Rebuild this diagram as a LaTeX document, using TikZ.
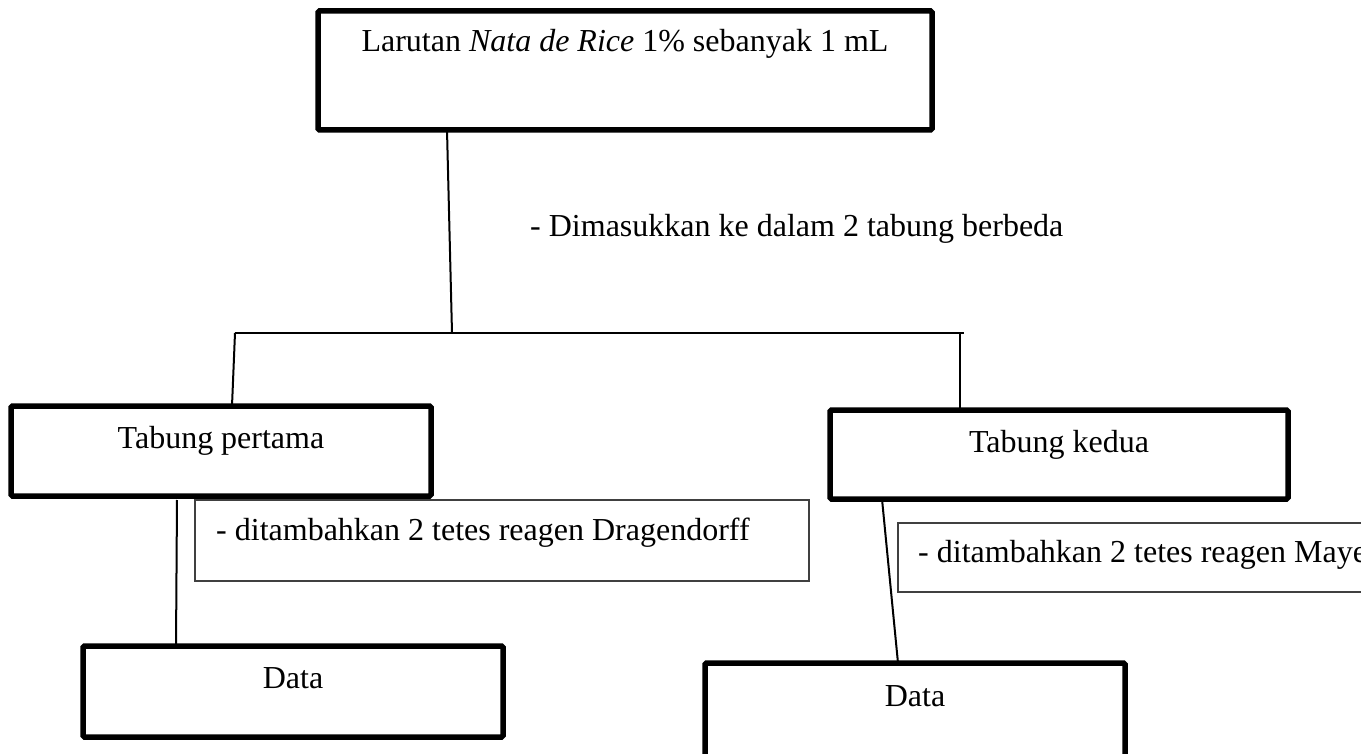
\documentclass[tikz,border=0pt]{standalone}
\usepackage{fontspec}
\setmainfont{Liberation Serif}
\usetikzlibrary{calc}
\tikzset{
  thickbox/.style={draw=black, line width=5.5pt, rounded corners=1.5pt, inner sep=0pt, outer sep=0pt, anchor=north west},
  thinbox/.style={draw=black!75, line width=1.5pt, inner sep=0pt, outer sep=0pt, anchor=north west},
  conn/.style={draw=black, line width=2pt},
  txt/.style={inner sep=0pt, anchor=base, font=\fontsize{32}{38}\selectfont},
  ltxt/.style={inner sep=0pt, anchor=base west, font=\fontsize{32}{38}\selectfont}
}
\begin{document}
\begin{tikzpicture}[x=1pt, y=-1pt]
\useasboundingbox (0,0) rectangle (1361,754);
\clip (0,0) rectangle (1361,754);
% boxes
\node[thickbox, minimum width=614pt, minimum height=119pt] (top) at (318,11) {};
\node[txt] at ($(top.north)+(0,41)$) {Larutan \textit{Nata de Rice} 1\% sebanyak 1 mL};
\node[ltxt] (dim) at (530,237) {- Dimasukkan ke dalam 2 tabung berbeda};
\node[thinbox, minimum width=614pt, minimum height=81pt] (s1) at (195,500) {};
\node[ltxt] at ($(s1.north west)+(21,40)$) {- ditambahkan 2 tetes reagen Dragendorff};
\node[thinbox, minimum width=482pt, minimum height=69pt] (s2) at (898,523) {};
\node[ltxt] at ($(s2.north west)+(20,39)$) {- ditambahkan 2 tetes reagen Mayer};
\node[thickbox, minimum width=420pt, minimum height=90pt] (t1) at (11,406) {};
\node[txt] at ($(t1.north)+(0,42)$) {Tabung pertama};
\node[thickbox, minimum width=458pt, minimum height=89pt] (t2) at (830,410) {};
\node[txt] at ($(t2.north)+(0,42)$) {Tabung kedua};
\node[thickbox, minimum width=420pt, minimum height=91pt] (d1) at (83,646) {};
\node[txt] at ($(d1.north)+(0,42)$) {Data};
\node[thickbox, minimum width=420pt, minimum height=127pt] (d2) at (705,663) {};
\node[txt] at ($(d2.north)+(0,43)$) {Data};
% connectors
\coordinate (j) at (452,333);
\coordinate (hl) at (235,333);
\coordinate (hr) at (964,333);
\coordinate (hr2) at (960,333);
\draw[conn] ([xshift=129pt]top.south west) -- (j);
\draw[conn] (hl) -- (hr);
\draw[conn] (hl) -- ([xshift=221pt]t1.north west);
\draw[conn] (hr2) -- ([xshift=130pt]t2.north west);
\draw[conn] ([xshift=166pt,yshift=-4pt]t1.south west) -- ([xshift=93pt]d1.north west);
\draw[conn] ([xshift=52pt]t2.south west) -- ([xshift=193pt]d2.north west);
\end{tikzpicture}
\end{document}
